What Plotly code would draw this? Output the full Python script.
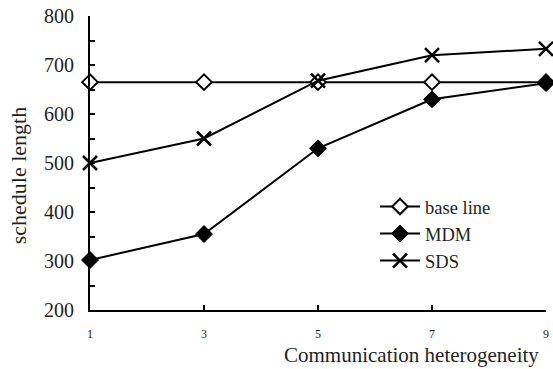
import plotly.graph_objects as go

x_vals = [1, 3, 5, 7, 9]
baseline = [665, 665, 665, 665, 665]
mdm = [302, 355, 530, 630, 663]
sds = [500, 550, 668, 720, 733]
x_ticks = [1, 3, 5, 7, 9]
y_ticks = [200, 300, 400, 500, 600, 700, 800]

font = "Liberation Serif"
txt = "#231f20"
fig = go.Figure()
fig.add_trace(go.Scatter(x=x_vals, y=baseline, name="base line", mode="lines+markers",
                         line=dict(color="black", width=2),
                         marker=dict(symbol="diamond", size=12, color="white",
                                     line=dict(color="black", width=2)),
                         cliponaxis=False))
fig.add_trace(go.Scatter(x=x_vals, y=mdm, name="MDM", mode="lines+markers",
                         line=dict(color="black", width=2),
                         marker=dict(symbol="diamond", size=13, color="black",
                                     line=dict(color="black", width=1)),
                         cliponaxis=False))
fig.add_trace(go.Scatter(x=x_vals, y=sds, name="SDS", mode="lines+markers",
                         line=dict(color="black", width=2),
                         marker=dict(symbol="x-thin", size=14, color="black",
                                     line=dict(color="black", width=2.5)),
                         cliponaxis=False))

fig.update_layout(
    width=553, height=369,
    margin=dict(l=90, r=4, t=16, b=59),
    plot_bgcolor="white", paper_bgcolor="white",
    font=dict(family=font, color=txt),
    showlegend=True,
    legend=dict(x=0.625, y=0.415, xanchor="left", yanchor="top",
                bgcolor="rgba(0,0,0,0)", font=dict(size=18.5, family=font),
                itemwidth=40, tracegroupgap=0),
    xaxis=dict(range=[1, 9], tickvals=x_ticks, ticks="inside", ticklen=5,
               tickwidth=1.5, tickcolor="black", showline=True, linecolor="black",
               linewidth=2, showgrid=False, zeroline=False,
               tickfont=dict(size=12, family=font), ticklabelstandoff=12),
    yaxis=dict(range=[200, 800], tickvals=y_ticks, ticks="inside", ticklen=5,
               tickwidth=1.5, tickcolor="black", showline=True, linecolor="black",
               linewidth=2, showgrid=False, zeroline=False,
               tickfont=dict(size=20, family=font), ticklabelstandoff=10,
               minor=dict(dtick=50, ticks="inside", ticklen=5, tickwidth=1.5,
                          tickcolor="black", showgrid=False)),
    annotations=[
        dict(text="Communication heterogeneity", xref="paper", yref="paper",
             x=0.989, y=-0.152, xanchor="right", yanchor="middle", showarrow=False,
             font=dict(size=21, family=font, color=txt)),
        dict(text="schedule length", xref="paper", yref="paper",
             x=-0.155, y=0.456, xanchor="center", yanchor="middle", showarrow=False,
             textangle=-90, font=dict(size=22, family=font, color=txt)),
    ],
)
fig.write_html("out.html")
